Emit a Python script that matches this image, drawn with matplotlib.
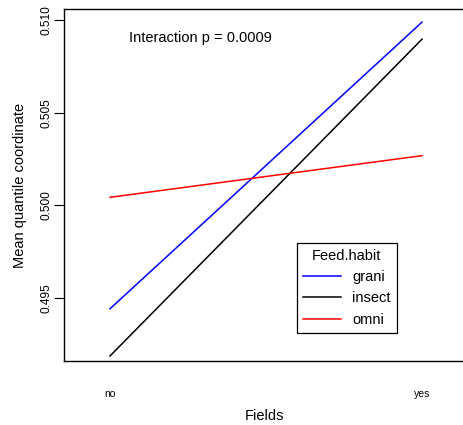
import numpy as np
import matplotlib
matplotlib.use("Agg")
import matplotlib.pyplot as plt

plt.rcParams['font.family'] = ['Liberation Sans', 'DejaVu Sans']

fields = ["no", "yes"]
habits = ["grani", "insect", "omni"]
colors = ["blue", "black", "red"]
grani = [0.49441, 0.50989]
insect = [0.49186, 0.50897]
omni = [0.50043, 0.50268]
series = [grani, insect, omni]

W, H = 464, 425
fig = plt.figure(figsize=(W / 100, H / 100), dpi=100)
ax = fig.add_axes([64 / W, 1 - 361 / H, 402 / W, 352 / H])

x = np.arange(1, len(fields) + 1)
for name, vals, c in zip(habits, series, colors):
    ax.plot(x, vals, color=c, lw=1.1, label=name)

ax.set_xlim(0.8526, 2.141)
ax.set_ylim(0.49159, 0.51060)
ax.set_xticks(x)
ax.set_xticklabels(fields, fontsize=7.5)
ax.tick_params(axis='x', length=0, pad=20)
ax.set_yticks([0.495, 0.500, 0.505, 0.510])
ax.set_yticklabels(["0.495", "0.500", "0.505", "0.510"], rotation=90, va='center', fontsize=8.6)
ax.tick_params(axis='y', length=7, width=0.8, pad=1)
for s in ax.spines.values():
    s.set_linewidth(1.0)

ax.set_xlabel("Fields", fontsize=10.5, labelpad=7)
ax.set_ylabel("Mean quantile coordinate", fontsize=10.5, labelpad=10)

ax.text(0.161, 0.919, "Interaction p = 0.0009", transform=ax.transAxes,
        fontsize=10.5, va='center', ha='left')

leg = ax.legend(title="Feed.habit", loc='upper left', bbox_to_anchor=(0.5796, 0.335),
                borderaxespad=0, fancybox=False, edgecolor='black', fontsize=10.5,
                title_fontsize=10.5, handlelength=2.6, framealpha=1)
leg.get_frame().set_linewidth(0.9)

plt.savefig("out.png", dpi=100)
